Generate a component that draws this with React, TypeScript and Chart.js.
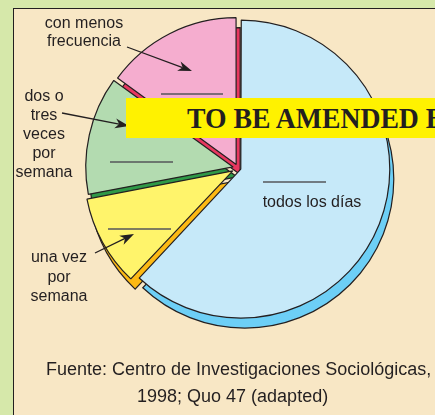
import React, { useEffect, useRef } from "react";
import { Chart, registerables } from "chart.js";

Chart.register(...registerables);

const categories = ["todos los días", "una vez por semana", "dos o tres veces por semana", "con menos frecuencia"];
const values = [62, 10, 13, 15];
const faceColors = ["#c6e9f9", "#fff46b", "#b3dbb0", "#f5adcf"];
const sideColors = ["#6dcff6", "#fdb913", "#2f9947", "#e8375f"];
// Chart.js 4 moves an arc by offset / 4 pixels
const sliceOffsets = [12, 24, 20, 16];

const INK = "#231f20";
const DEPTH_X = 4;
const DEPTH_Y = 10;

const depthPlugin = {
  id: "depth",
  beforeDatasetsDraw(chart: any) {
    const ctx = chart.ctx;
    const meta = chart.getDatasetMeta(0);
    ctx.save();
    meta.data.forEach((arc: any, i: number) => {
      const p = arc.getProps(["x", "y", "startAngle", "endAngle", "outerRadius"], true);
      const off = (arc.options.offset || 0) / 4;
      const circ = p.endAngle - p.startAngle;
      const fix = 1 - Math.sin(Math.min(Math.PI, circ));
      const r = p.outerRadius + off * fix;
      const mid = (p.startAngle + p.endAngle) / 2;
      const cx = p.x + Math.cos(mid) * off + DEPTH_X;
      const cy = p.y + Math.sin(mid) * off + DEPTH_Y;
      ctx.beginPath();
      ctx.moveTo(cx, cy);
      ctx.arc(cx, cy, r, p.startAngle, p.endAngle);
      ctx.closePath();
      ctx.fillStyle = sideColors[i];
      ctx.fill();
      ctx.lineWidth = 1.2;
      ctx.strokeStyle = INK;
      ctx.stroke();
    });
    ctx.restore();
  },
};

function arrow(ctx: CanvasRenderingContext2D, x1: number, y1: number, x2: number, y2: number) {
  const ang = Math.atan2(y2 - y1, x2 - x1);
  const len = 14;
  const w = 5;
  const bx = x2 - Math.cos(ang) * len;
  const by = y2 - Math.sin(ang) * len;
  ctx.beginPath();
  ctx.moveTo(x1, y1);
  ctx.lineTo(bx + Math.cos(ang) * 4, by + Math.sin(ang) * 4);
  ctx.lineWidth = 1.3;
  ctx.strokeStyle = INK;
  ctx.stroke();
  ctx.beginPath();
  ctx.moveTo(x2, y2);
  ctx.lineTo(bx + Math.cos(ang + Math.PI / 2) * w, by + Math.sin(ang + Math.PI / 2) * w);
  ctx.lineTo(bx + Math.cos(ang) * 4, by + Math.sin(ang) * 4);
  ctx.lineTo(bx + Math.cos(ang - Math.PI / 2) * w, by + Math.sin(ang - Math.PI / 2) * w);
  ctx.closePath();
  ctx.fillStyle = INK;
  ctx.fill();
}

const annotPlugin = {
  id: "annot",
  afterDatasetsDraw(chart: any) {
    const ctx = chart.ctx;
    ctx.save();
    ctx.strokeStyle = "#55565a";
    ctx.lineWidth = 1.6;
    const blanks = [
      [161, 223, 94],
      [110, 173, 162],
      [108, 171, 229],
      [263, 326, 182],
    ];
    blanks.forEach(([a, b, y]) => {
      ctx.beginPath();
      ctx.moveTo(a, y);
      ctx.lineTo(b, y);
      ctx.stroke();
    });
    arrow(ctx, 127, 47, 192, 71);
    arrow(ctx, 62, 113, 129, 126);
    arrow(ctx, 95, 253, 134, 234);
    ctx.restore();
  },
};

const sans = "'Liberation Sans', Arial, Helvetica, sans-serif";

function Label({ cx, top, lh, children }: { cx: number; top: number; lh: number; children: any }) {
  return (
    <div
      style={{
        position: "absolute",
        left: cx - 100,
        top,
        width: 200,
        textAlign: "center",
        fontFamily: sans,
        fontSize: 16,
        lineHeight: lh + "px",
        color: INK,
        whiteSpace: "nowrap",
      }}
    >
      {children}
    </div>
  );
}

export default function App() {
  const ref = useRef<HTMLCanvasElement>(null);
  useEffect(() => {
    if (!ref.current) return;
    const chart = new Chart(ref.current, {
      type: "pie",
      data: {
        labels: categories,
        datasets: [
          {
            data: values,
            backgroundColor: faceColors,
            borderColor: INK,
            borderWidth: 1.2,
            offset: sliceOffsets,
          },
        ],
      },
      options: {
        responsive: false,
        maintainAspectRatio: false,
        animation: false,
        devicePixelRatio: 1,
        radius: 146,
        layout: { padding: { left: 41, right: 0, top: 0, bottom: 79 } },
        plugins: { legend: { display: false }, tooltip: { enabled: false } },
      } as any,
      plugins: [depthPlugin, annotPlugin],
    });
    return () => chart.destroy();
  }, []);

  return (
    <div style={{ position: "fixed", left: 0, top: 0, width: 435, height: 415, overflow: "hidden", background: "#d6e8aa" }}>
      <div
        style={{
          position: "absolute",
          left: 13,
          top: 8,
          width: 460,
          height: 440,
          background: "#f8e7c5",
          borderLeft: `1.5px solid ${INK}`,
          borderTop: `1.5px solid ${INK}`,
        }}
      />
      <canvas ref={ref} width={435} height={415} style={{ position: "absolute", left: 0, top: 0 }} />
      <Label cx={84} top={14} lh={18}>
        con menos
        <br />
        frecuencia
      </Label>
      <Label cx={44} top={86} lh={19}>
        dos o<br />tres<br />veces<br />por<br />semana
      </Label>
      <Label cx={59} top={247} lh={19.5}>
        una vez<br />por<br />semana
      </Label>
      <Label cx={312} top={192} lh={19}>
        todos los días
      </Label>
      <div
        style={{
          position: "absolute",
          left: 46,
          top: 359,
          fontFamily: sans,
          fontSize: 18,
          lineHeight: "20px",
          color: INK,
          whiteSpace: "nowrap",
        }}
      >
        Fuente: Centro de Investigaciones Sociológicas,
      </div>
      <div
        style={{
          position: "absolute",
          left: 137,
          top: 386,
          fontFamily: sans,
          fontSize: 18,
          lineHeight: "20px",
          color: INK,
          whiteSpace: "nowrap",
        }}
      >
        1998; Quo 47 (adapted)
      </div>
      <div style={{ position: "absolute", left: 126, top: 98, width: 330, height: 40, background: "#fff200" }}>
        <div
          style={{
            position: "absolute",
            left: 61,
            top: 6,
            fontFamily: "'Liberation Serif', 'Times New Roman', serif",
            fontWeight: "bold",
            fontSize: 29,
            lineHeight: "29px",
            color: INK,
            whiteSpace: "nowrap",
            transform: "scaleX(0.955)",
            transformOrigin: "left center",
          }}
        >
          TO BE AMENDED BY PUBLISHER
        </div>
      </div>
    </div>
  );
}
